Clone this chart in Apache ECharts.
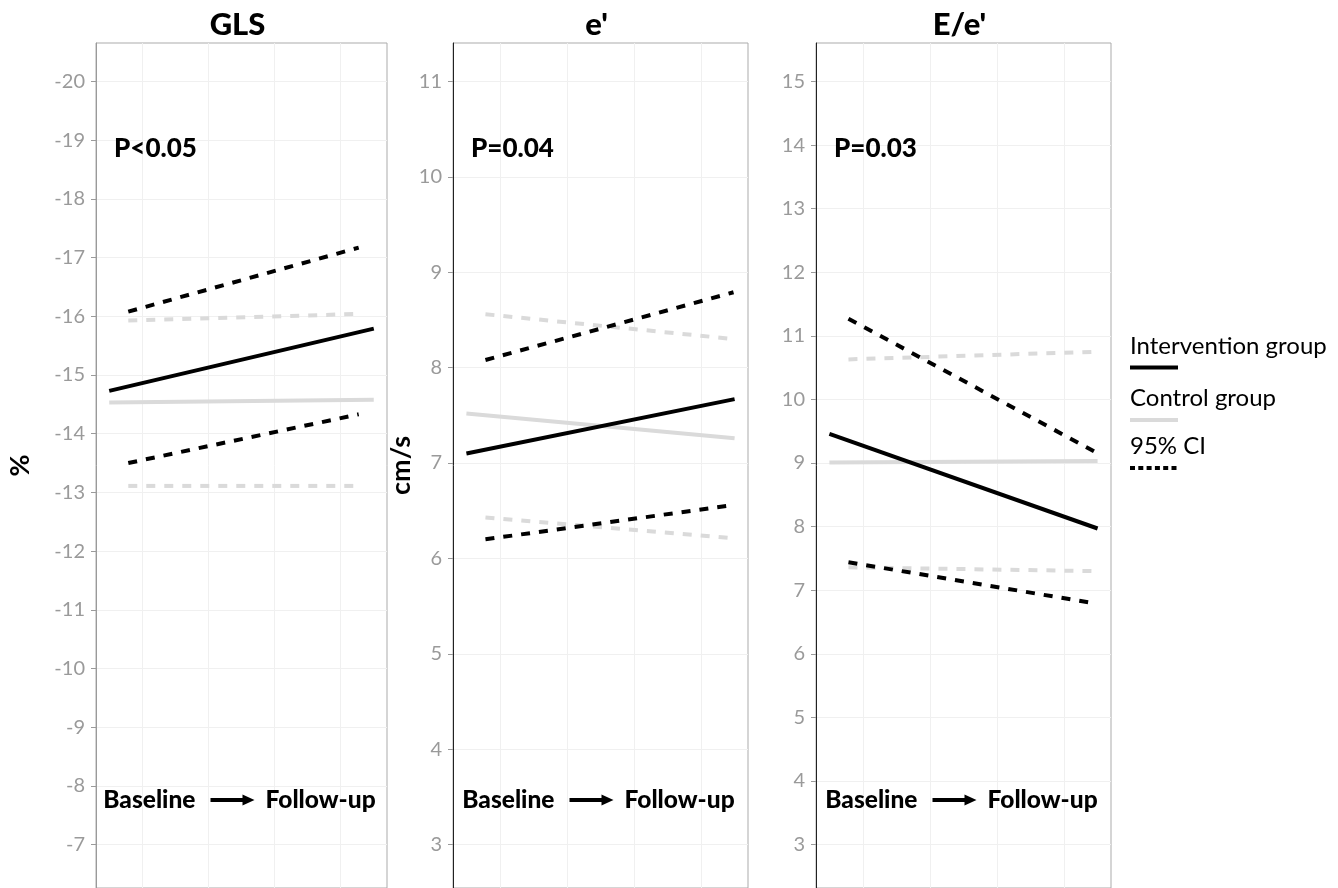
<!DOCTYPE html>
<html><head><meta charset="utf-8">
<script src="https://cdn.jsdelivr.net/npm/echarts@6/dist/echarts.min.js"></script>
<style>html,body{margin:0;padding:0;background:#fff}#c{width:1338px;height:888px}</style>
</head><body><div id="c"></div>
<script>
// ---------- data ----------
const panelTitles = ['GLS', "e'", "E/e'"];
const pLabels = ['P<0.05', 'P=0.04', 'P=0.03'];
const yNames = ['%', 'cm/s', ''];
const legendLabels = ['Intervention group', 'Control group', '95% CI'];

// x positions (0 = Baseline, 1 = Follow-up)
const xSolid = [0, 1];
const xCI_GLS = [0.072, 0.943];
const xCI_E = [0.071, 0.996];
const xCI_EE = [0.071, 0.993];

// tick labels
const glsTicks = [-20, -19, -18, -17, -16, -15, -14, -13, -12, -11, -10, -9, -8, -7];
const eTicks = [3, 4, 5, 6, 7, 8, 9, 10, 11];
const eeTicks = [3, 4, 5, 6, 7, 8, 9, 10, 11, 12, 13, 14, 15];

// GLS (%)
const glsInt = [-14.73, -15.79];
const glsCtrl = [-14.53, -14.58];
const glsIntUpper = [-16.08, -17.17];
const glsIntLower = [-13.50, -14.33];
const glsCtrlUpper = [-15.93, -16.04];
const glsCtrlLower = [-13.11, -13.11];

// e' (cm/s)
const eInt = [7.10, 7.67];
const eCtrl = [7.52, 7.26];
const eIntUpper = [8.08, 8.79];
const eIntLower = [6.20, 6.56];
const eCtrlUpper = [8.56, 8.30];
const eCtrlLower = [6.43, 6.21];

// E/e'
const eeInt = [9.46, 7.97];
const eeCtrl = [9.01, 9.03];
const eeIntUpper = [11.27, 9.17];
const eeIntLower = [7.44, 6.79];
const eeCtrlUpper = [10.63, 10.75];
const eeCtrlLower = [7.36, 7.30];

// ---------- layout / style ----------
const FONT = 'Lato, "Open Sans", sans-serif';
const BLACK = '#000000';
const GRAY = '#dadada';
const gridLeft = [96, 453, 816];
const gridWidth = [291, 295, 295];
const gridTop = 43;
const gridBottom = -10;
const yRanges = [
  { min: -20.657, max: -6.259, inverse: true },
  { min: 2.544, max: 11.404, inverse: false },
  { min: 2.316, max: 15.606, inverse: false }
];
const tickSets = [glsTicks, eTicks, eeTicks];
const axisLineColors = ['#9a9a9a', '#222222', '#222222'];
const nameGaps = [62, 32, 0];

const panels = [
  { xCI: xCI_GLS, int: glsInt, ctrl: glsCtrl, iu: glsIntUpper, il: glsIntLower, cu: glsCtrlUpper, cl: glsCtrlLower },
  { xCI: xCI_E, int: eInt, ctrl: eCtrl, iu: eIntUpper, il: eIntLower, cu: eCtrlUpper, cl: eCtrlLower },
  { xCI: xCI_EE, int: eeInt, ctrl: eeCtrl, iu: eeIntUpper, il: eeIntLower, cu: eeCtrlUpper, cl: eeCtrlLower }
];

const pairs = (xs, ys) => xs.map((x, i) => [x, ys[i]]);
const DASH = [9, 9];

const grids = [], xAxes = [], yAxes = [], series = [], graphics = [];

panels.forEach((p, i) => {
  grids.push({ left: gridLeft[i], width: gridWidth[i], top: gridTop, bottom: gridBottom,
    show: true, borderColor: '#ababab', borderWidth: 1, backgroundColor: '#fff' });
  xAxes.push({ type: 'value', gridIndex: i, min: -0.05, max: 1.05,
    axisLine: { show: false, onZero: false }, axisTick: { show: false, customValues: [0.125, 0.375, 0.625, 0.875] },
    axisLabel: { show: false, customValues: [0.125, 0.375, 0.625, 0.875] },
    splitLine: { show: true, lineStyle: { color: '#f0f0f0', width: 1 } } });
  const ticks = tickSets[i];
  yAxes.push({ type: 'value', gridIndex: i, min: yRanges[i].min, max: yRanges[i].max,
    inverse: yRanges[i].inverse, position: 'left',
    name: yNames[i], nameLocation: 'middle', nameRotate: 90, nameGap: nameGaps[i],
    nameTextStyle: { fontFamily: FONT, fontWeight: 'bold', fontSize: 27, color: '#000' },
    axisLine: { show: true, onZero: false, lineStyle: { color: axisLineColors[i], width: 1 } },
    axisTick: { show: true, length: 5, customValues: ticks, lineStyle: { color: '#9a9a9a' } },
    axisLabel: { show: true, customValues: ticks, margin: 11, fontFamily: FONT, fontSize: 20, color: '#9a9a9a' },
    splitLine: { show: true, lineStyle: { color: '#f0f0f0', width: 1 } } });

  const mk = (name, xs, ys, color, dashed) => ({
    name, type: 'line', xAxisIndex: i, yAxisIndex: i, data: pairs(xs, ys),
    symbol: 'none', silent: true, animation: false,
    lineStyle: { color, width: 4, type: dashed ? DASH : 'solid', cap: 'butt' }
  });
  series.push(mk('ctrlUpper' + i, p.xCI, p.cu, GRAY, true));
  series.push(mk('ctrlLower' + i, p.xCI, p.cl, GRAY, true));
  series.push(mk('ctrl' + i, xSolid, p.ctrl, GRAY, false));
  series.push(mk('intUpper' + i, p.xCI, p.iu, BLACK, true));
  series.push(mk('intLower' + i, p.xCI, p.il, BLACK, true));
  series.push(mk('int' + i, xSolid, p.int, BLACK, false));

  const c = gridLeft[i] + gridWidth[i] / 2;
  // title
  graphics.push({ type: 'text', x: c - 4, y: 25, silent: true, z: 100,
    style: { text: panelTitles[i], fontFamily: FONT, fontWeight: 900, fontSize: 31, fill: '#000',
      textAlign: 'center', textVerticalAlign: 'middle' } });
  // p-value
  graphics.push({ type: 'text', x: gridLeft[i] + 18, y: 149, silent: true, z: 100,
    style: { text: pLabels[i], fontFamily: FONT, fontWeight: 900, fontSize: 26, fill: '#000',
      textAlign: 'left', textVerticalAlign: 'middle' } });
  // Baseline -> Follow-up
  graphics.push({ type: 'text', x: c - 46, y: 800, silent: true, z: 100,
    style: { text: 'Baseline', fontFamily: FONT, fontWeight: 900, fontSize: 24.5, fill: '#000',
      textAlign: 'right', textVerticalAlign: 'middle' } });
  graphics.push({ type: 'rect', silent: true, z: 100, shape: { x: c - 31, y: 798, width: 33, height: 4 }, style: { fill: '#000' } });
  graphics.push({ type: 'polygon', silent: true, z: 100, shape: { points: [[c + 1, 794.5], [c + 13, 800], [c + 1, 805.5]] }, style: { fill: '#000' } });
  graphics.push({ type: 'text', x: c + 24, y: 800, silent: true, z: 100,
    style: { text: 'Follow-up', fontFamily: FONT, fontWeight: 900, fontSize: 24.5, fill: '#000',
      textAlign: 'left', textVerticalAlign: 'middle' } });
});

// legend
const legendStyles = [
  { color: BLACK, dash: null, y: 346 },
  { color: GRAY, dash: null, y: 398.5 },
  { color: BLACK, dash: [5, 3.3], y: 446.5 }
];
legendLabels.forEach((lab, k) => {
  const s = legendStyles[k];
  graphics.push({ type: 'text', x: 1130, y: s.y, silent: true, z: 100,
    style: { text: lab, fontFamily: FONT, fontSize: 24, fill: '#000', textAlign: 'left', textVerticalAlign: 'middle' } });
  graphics.push({ type: 'line', silent: true, z: 100, shape: { x1: 1130, y1: s.y + 21.5, x2: 1178, y2: s.y + 21.5 },
    style: { stroke: s.color, lineWidth: 4, lineDash: s.dash || null, lineCap: 'butt' } });
});

const chart = echarts.init(document.getElementById('c'), null, { renderer: 'canvas' });
chart.setOption({
  animation: false,
  backgroundColor: '#ffffff',
  grid: grids,
  xAxis: xAxes,
  yAxis: yAxes,
  series: series,
  graphic: graphics
});
</script>
</body></html>
